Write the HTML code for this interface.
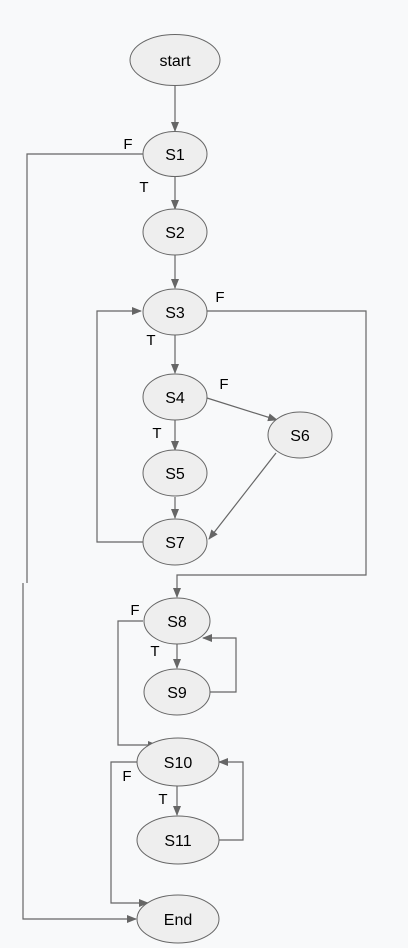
<!DOCTYPE html>
<html><head><meta charset="utf-8"><style>
html,body{margin:0;padding:0;background:#f8f9fa;}
svg{display:block;}
text{font-family:"Liberation Sans",Arial,sans-serif;fill:#000;}
</style></head><body>
<svg width="408" height="948" viewBox="0 0 408 948" xmlns="http://www.w3.org/2000/svg">
<defs>
<marker id="a" markerWidth="10" markerHeight="8" refX="9" refY="4" orient="auto" markerUnits="userSpaceOnUse">
<path d="M0,0 L10,4 L0,8 z" fill="#666"/></marker>
</defs>
<rect width="408" height="948" fill="#f8f9fa"/>
<g stroke="#666" stroke-width="1.2" fill="none">
<line x1="175" y1="86" x2="175" y2="131" marker-end="url(#a)"/>
<line x1="175" y1="177" x2="175" y2="209" marker-end="url(#a)"/>
<line x1="175" y1="255" x2="175" y2="288" marker-end="url(#a)"/>
<polyline points="143,154 27,154 27,583"/>
<polyline points="23,583 23,919 136,919" marker-end="url(#a)"/>
<line x1="175" y1="335" x2="175" y2="373" marker-end="url(#a)"/>
<polyline points="207,311 366,311 366,575 177,575 177,597" marker-end="url(#a)"/>
<polyline points="143,542 97,542 97,311 141,311" marker-end="url(#a)"/>
<line x1="207" y1="398" x2="277" y2="420" marker-end="url(#a)"/>
<line x1="175" y1="420" x2="175" y2="450" marker-end="url(#a)"/>
<line x1="175" y1="497" x2="175" y2="518" marker-end="url(#a)"/>
<line x1="276" y1="453" x2="209" y2="539" marker-end="url(#a)"/>
<polyline points="143,621 118,621 118,745 157,745" marker-end="url(#a)"/>
<line x1="177" y1="644" x2="177" y2="668" marker-end="url(#a)"/>
<polyline points="210,692 236,692 236,638 203,638" marker-end="url(#a)"/>
<polyline points="137,762 111,762 111,903 148,903" marker-end="url(#a)"/>
<line x1="177" y1="786" x2="177" y2="815" marker-end="url(#a)"/>
<polyline points="219,840 243,840 243,762 219,762" marker-end="url(#a)"/>
</g>
<g fill="#eeeeee" stroke="#666" stroke-width="1">
<ellipse cx="175" cy="60" rx="45" ry="25.5"/>
<ellipse cx="175" cy="154" rx="32" ry="22.5"/>
<ellipse cx="175" cy="232" rx="32" ry="23"/>
<ellipse cx="175" cy="312" rx="32" ry="23"/>
<ellipse cx="175" cy="397" rx="32" ry="23"/>
<ellipse cx="175" cy="473" rx="32" ry="23"/>
<ellipse cx="300" cy="435" rx="32" ry="23"/>
<ellipse cx="175" cy="542" rx="32" ry="23"/>
<ellipse cx="177" cy="621" rx="33" ry="23"/>
<ellipse cx="177" cy="692" rx="33" ry="23"/>
<ellipse cx="178" cy="762" rx="41" ry="24"/>
<ellipse cx="178" cy="840" rx="41" ry="24"/>
<ellipse cx="178" cy="919" rx="41" ry="24"/>
</g>
<g font-size="16" text-anchor="middle">
<text x="175" y="66">start</text>
<text x="175" y="160">S1</text>
<text x="175" y="238">S2</text>
<text x="175" y="318">S3</text>
<text x="175" y="403">S4</text>
<text x="175" y="479">S5</text>
<text x="300" y="441">S6</text>
<text x="175" y="548">S7</text>
<text x="177" y="627">S8</text>
<text x="177" y="698">S9</text>
<text x="178" y="768">S10</text>
<text x="178" y="846">S11</text>
<text x="178" y="925">End</text>
</g>
<g font-size="15" text-anchor="middle">
<text x="128" y="149">F</text>
<text x="144" y="192">T</text>
<text x="220" y="302">F</text>
<text x="151" y="345">T</text>
<text x="224" y="389">F</text>
<text x="157" y="438">T</text>
<text x="135" y="615">F</text>
<text x="155" y="656">T</text>
<text x="127" y="781">F</text>
<text x="163" y="804">T</text>
</g>
</svg>
</body></html>
